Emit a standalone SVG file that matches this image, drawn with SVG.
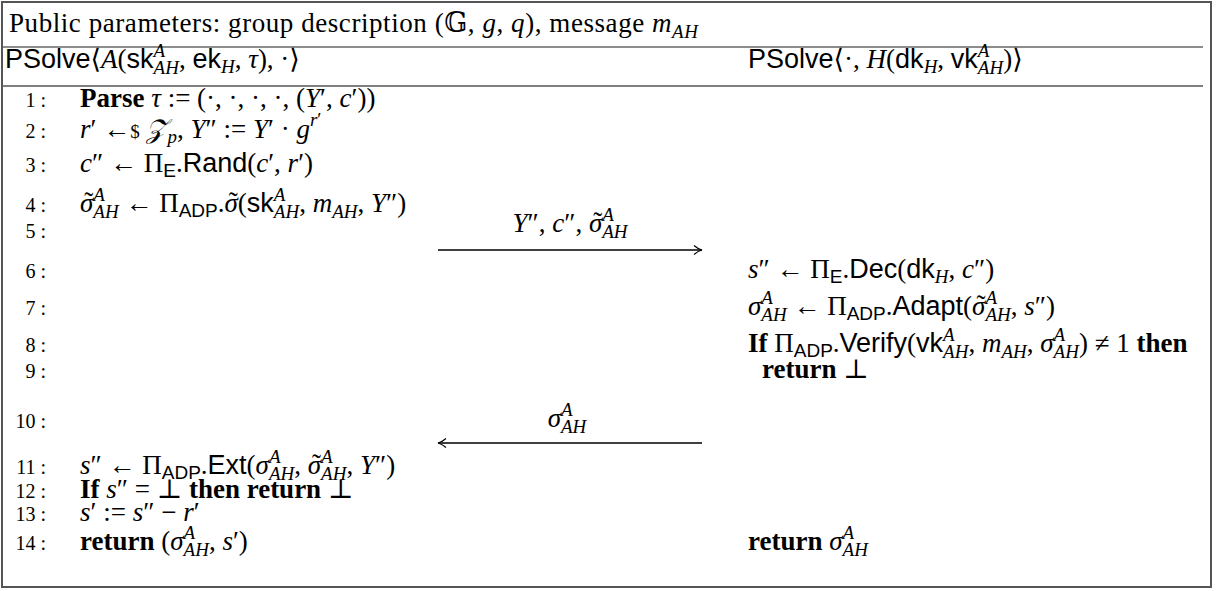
<svg xmlns="http://www.w3.org/2000/svg" width="1229" height="591" viewBox="0 0 1229 591">
<style>
.m{font-family:"Liberation Serif","DejaVu Serif","DejaVu Sans",serif;font-size:27px;fill:#000}
.i{font-style:italic}
.b{font-weight:bold}
.sf{font-family:"Liberation Sans","DejaVu Sans",sans-serif}
.sc{font-size:19px}
.ln{font-family:"Liberation Serif","DejaVu Serif",serif;font-size:20px;fill:#000;text-anchor:end}
.mid{text-anchor:middle}
.arr{stroke:#000;stroke-width:1.3;fill:none}
</style>
<defs>
<marker id="head" markerUnits="userSpaceOnUse" markerWidth="12" markerHeight="12" refX="9" refY="5" orient="auto-start-reverse" viewBox="0 0 12 10">
<path d="M1,0.5 Q5,4 9,5 Q5,6 1,9.5" stroke="#000" stroke-width="1.2" fill="none"/>
</marker>
</defs>
<rect x="0" y="0" width="1229" height="591" fill="#fff"/>
<g id="frame">
<rect x="2" y="2" width="1209" height="585" fill="none" stroke="#555" stroke-width="2"/>
<line x1="3" y1="47" x2="1203" y2="47" stroke="#666" stroke-width="1.6"/>
<line x1="3" y1="86" x2="1203" y2="86" stroke="#000" stroke-width="1.2"/>
</g>
<g id="header">
<text class="m" x="9" y="32" textLength="689" lengthAdjust="spacing">Public parameters: group description (𝔾, <tspan class="i">g</tspan>, <tspan class="i">q</tspan>), message <tspan class="i">m</tspan><tspan class="i sc" dy="6">AH</tspan></text>
</g>
<g id="party-A">
<text class="m" x="5" y="68"><tspan class="sf">PSolve</tspan>⟨<tspan class="i">A</tspan>(<tspan class="sf">sk</tspan><tspan class="i sc" dy="-11">A</tspan><tspan class="i sc" dx="-11.6" dy="17">AH</tspan><tspan dy="-6">, </tspan><tspan class="sf">ek</tspan><tspan class="i sc" dy="5">H</tspan><tspan dy="-5">, </tspan><tspan class="i">τ</tspan>), ·⟩</text>
</g>
<g id="party-H">
<text class="m" x="748" y="68"><tspan class="sf">PSolve</tspan>⟨·, <tspan class="i">H</tspan>(<tspan class="sf">dk</tspan><tspan class="i sc" dy="5">H</tspan><tspan dy="-5">, </tspan><tspan class="sf">vk</tspan><tspan class="i sc" dy="-11">A</tspan><tspan class="i sc" dx="-11.6" dy="17">AH</tspan><tspan dy="-6">)⟩</tspan></text>
</g>
<g id="line-numbers">
<text class="ln" x="46" y="107">1 :</text>
<text class="ln" x="46" y="138">2 :</text>
<text class="ln" x="46" y="172">3 :</text>
<text class="ln" x="46" y="212">4 :</text>
<text class="ln" x="46" y="238">5 :</text>
<text class="ln" x="46" y="278">6 :</text>
<text class="ln" x="46" y="315">7 :</text>
<text class="ln" x="46" y="352">8 :</text>
<text class="ln" x="46" y="378">9 :</text>
<text class="ln" x="46" y="428">10 :</text>
<text class="ln" x="46" y="474">11 :</text>
<text class="ln" x="46" y="498">12 :</text>
<text class="ln" x="46" y="521">13 :</text>
<text class="ln" x="46" y="550">14 :</text>
</g>
<g id="steps-A">
<text class="m" x="80" y="107"><tspan class="b">Parse</tspan> <tspan class="i">τ</tspan> := (·, ·, ·, ·, (<tspan class="i">Y</tspan>′, <tspan class="i">c</tspan>′))</text>
<text class="m" x="80" y="138"><tspan class="i">r</tspan>′ ←<tspan class="sc">$</tspan> <tspan class="i">𝒵</tspan><tspan class="i sc" dy="5">p</tspan><tspan dy="-5">, </tspan><tspan class="i">Y</tspan>″ := <tspan class="i">Y</tspan>′ · <tspan class="i">g</tspan><tspan class="i sc" dy="-12">r</tspan><tspan class="sc">′</tspan></text>
<text class="m" x="80" y="172"><tspan class="i">c</tspan>″ ← Π<tspan class="sf sc" dy="5">E</tspan><tspan dy="-5">.</tspan><tspan class="sf">Rand</tspan>(<tspan class="i">c</tspan>′, <tspan class="i">r</tspan>′)</text>
<text class="m" x="80" y="212"><tspan class="i">σ</tspan><tspan dx="-9" dy="-1">˜</tspan><tspan class="i sc" dx="0" dy="-10">A</tspan><tspan class="i sc" dx="-11.6" dy="17">AH</tspan><tspan dy="-6"> ← Π</tspan><tspan class="sf sc" dy="5">ADP</tspan><tspan dy="-5">.</tspan><tspan class="i">σ</tspan><tspan dx="-9" dy="-1">˜</tspan><tspan dx="0" dy="1">(</tspan><tspan class="sf">sk</tspan><tspan class="i sc" dy="-11">A</tspan><tspan class="i sc" dx="-11.6" dy="17">AH</tspan><tspan dy="-6">, </tspan><tspan class="i">m</tspan><tspan class="i sc" dy="6">AH</tspan><tspan dy="-6">, </tspan><tspan class="i">Y</tspan>″)</text>
<text class="m" x="80" y="474"><tspan class="i">s</tspan>″ ← Π<tspan class="sf sc" dy="5">ADP</tspan><tspan dy="-5">.</tspan><tspan class="sf">Ext</tspan>(<tspan class="i">σ</tspan><tspan class="i sc" dy="-11">A</tspan><tspan class="i sc" dx="-11.6" dy="17">AH</tspan><tspan dy="-6">, </tspan><tspan class="i">σ</tspan><tspan dx="-9" dy="-1">˜</tspan><tspan class="i sc" dx="0" dy="-10">A</tspan><tspan class="i sc" dx="-11.6" dy="17">AH</tspan><tspan dy="-6">, </tspan><tspan class="i">Y</tspan>″)</text>
<text class="m" x="80" y="498"><tspan class="b">If</tspan> <tspan class="i">s</tspan>″ = ⊥ <tspan class="b">then return</tspan> ⊥</text>
<text class="m" x="80" y="521"><tspan class="i">s</tspan>′ := <tspan class="i">s</tspan>″ − <tspan class="i">r</tspan>′</text>
<text class="m" x="80" y="550"><tspan class="b">return</tspan> (<tspan class="i">σ</tspan><tspan class="i sc" dy="-11">A</tspan><tspan class="i sc" dx="-11.6" dy="17">AH</tspan><tspan dy="-6">, </tspan><tspan class="i">s</tspan>′)</text>
</g>
<g id="steps-H">
<text class="m" x="748" y="278"><tspan class="i">s</tspan>″ ← Π<tspan class="sf sc" dy="5">E</tspan><tspan dy="-5">.</tspan><tspan class="sf">Dec</tspan>(<tspan class="sf">dk</tspan><tspan class="i sc" dy="5">H</tspan><tspan dy="-5">, </tspan><tspan class="i">c</tspan>″)</text>
<text class="m" x="748" y="315"><tspan class="i">σ</tspan><tspan class="i sc" dy="-11">A</tspan><tspan class="i sc" dx="-11.6" dy="17">AH</tspan><tspan dy="-6"> ← Π</tspan><tspan class="sf sc" dy="5">ADP</tspan><tspan dy="-5">.</tspan><tspan class="sf">Adapt</tspan>(<tspan class="i">σ</tspan><tspan dx="-9" dy="-1">˜</tspan><tspan class="i sc" dx="0" dy="-10">A</tspan><tspan class="i sc" dx="-11.6" dy="17">AH</tspan><tspan dy="-6">, </tspan><tspan class="i">s</tspan>″)</text>
<text class="m" x="748" y="352"><tspan class="b">If</tspan> Π<tspan class="sf sc" dy="5">ADP</tspan><tspan dy="-5">.</tspan><tspan class="sf">Verify</tspan>(<tspan class="sf">vk</tspan><tspan class="i sc" dy="-11">A</tspan><tspan class="i sc" dx="-11.6" dy="17">AH</tspan><tspan dy="-6">, </tspan><tspan class="i">m</tspan><tspan class="i sc" dy="6">AH</tspan><tspan dy="-6">, </tspan><tspan class="i">σ</tspan><tspan class="i sc" dy="-11">A</tspan><tspan class="i sc" dx="-11.6" dy="17">AH</tspan><tspan dy="-6">) ≠ 1 </tspan><tspan class="b">then</tspan></text>
<text class="m" x="762" y="378"><tspan class="b">return</tspan> ⊥</text>
<text class="m" x="748" y="550"><tspan class="b">return</tspan> <tspan class="i">σ</tspan><tspan class="i sc" dy="-11">A</tspan><tspan class="i sc" dx="-11.6" dy="17">AH</tspan></text>
</g>
<g id="connectors">
<line class="arr" x1="438" y1="250" x2="702" y2="250" marker-end="url(#head)"/>
<text class="m mid" x="570" y="232"><tspan class="i">Y</tspan>″, <tspan class="i">c</tspan>″, <tspan class="i">σ</tspan><tspan dx="-9" dy="-1">˜</tspan><tspan class="i sc" dx="0" dy="-10">A</tspan><tspan class="i sc" dx="-11.6" dy="17">AH</tspan></text>
<line class="arr" x1="438" y1="443" x2="702" y2="443" marker-start="url(#head)"/>
<text class="m mid" x="567" y="427"><tspan class="i">σ</tspan><tspan class="i sc" dy="-11">A</tspan><tspan class="i sc" dx="-11.6" dy="17">AH</tspan></text>
</g>
</svg>
